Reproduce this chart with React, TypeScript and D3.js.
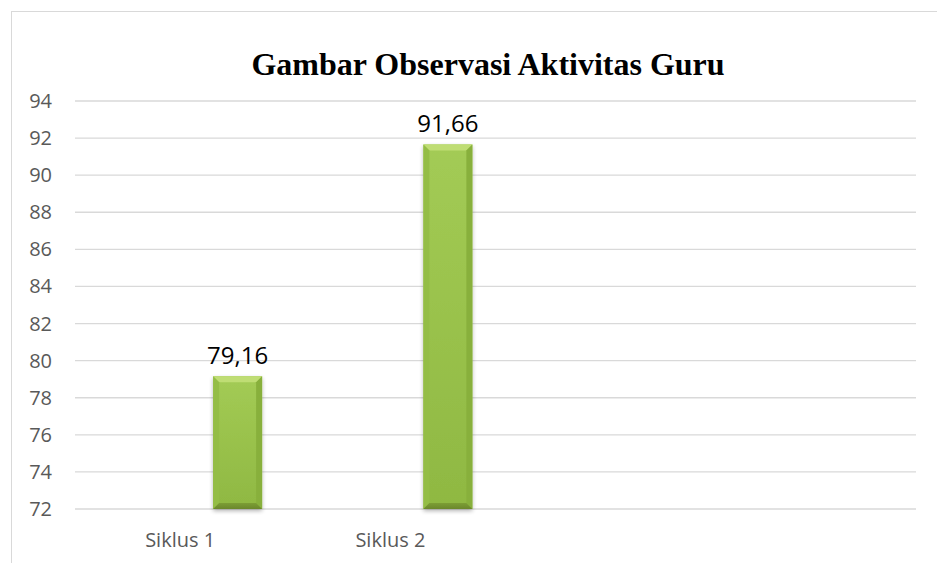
import React from "react";
import * as d3 from "d3";

const categories = ["Siklus 1", "Siklus 2", "", " "];
const values = [79.16, 91.66];
const valueLabels = ["79,16", "91,66"];
const yTicks = [72, 74, 76, 78, 80, 82, 84, 86, 88, 90, 92, 94];
const title = "Gambar Observasi Aktivitas Guru";

const W = 937;
const H = 563;
const plotLeft = 75;
const plotRight = 916;
const plotTop = 101;
const plotBottom = 509;

export default function App() {
  const x = d3.scaleBand<string>().domain(categories).range([plotLeft, plotRight]).padding(0);
  const y = d3.scaleLinear().domain([72, 94]).range([plotBottom, plotTop]);
  const bw = x.bandwidth();
  const barOffset = bw * 0.657;
  const barW = bw * 0.233;
  const bev = 6;
  const font = "'Open Sans', 'Noto Sans', sans-serif";

  return (
    <svg width={W} height={H} style={{ position: "absolute", left: 0, top: 0, background: "#fff" }}>
      <defs>
        <linearGradient id="face" x1="0" y1="0" x2="0" y2="1">
          <stop offset="0%" stopColor="#a3cb55" />
          <stop offset="100%" stopColor="#8fb842" />
        </linearGradient>
        <linearGradient id="bottomEdge" x1="0" y1="0" x2="0" y2="1">
          <stop offset="0%" stopColor="#7c9e35" />
          <stop offset="100%" stopColor="#6b872c" />
        </linearGradient>
        <filter id="shadow" x="-20%" y="-5%" width="140%" height="115%">
          <feGaussianBlur in="SourceAlpha" stdDeviation="2" />
          <feOffset dx="0" dy="2" result="b" />
          <feComponentTransfer>
            <feFuncA type="linear" slope="0.3" />
          </feComponentTransfer>
          <feMerge>
            <feMergeNode />
            <feMergeNode in="SourceGraphic" />
          </feMerge>
        </filter>
      </defs>
      <rect x={11.5} y={11.5} width={W} height={H} fill="#fff" stroke="#d9d9d9" strokeWidth={1} />
      <text
        x={488}
        y={75}
        textAnchor="middle"
        fontFamily="'Liberation Serif', 'Times New Roman', serif"
        fontWeight="bold"
        fontSize={32}
        fill="#000"
      >
        {title}
      </text>
      {yTicks.map((t) => (
        <g key={t}>
          <line x1={plotLeft} x2={plotRight} y1={y(t)} y2={y(t)} stroke="#d9d9d9" strokeWidth={1.3} />
          <text
            x={52}
            y={y(t)}
            dy="0.35em"
            textAnchor="end"
            fontFamily={font}
            fontSize={20}
            fill="#595959"
          >
            {t}
          </text>
        </g>
      ))}
      {categories.slice(0, 2).map((c) => (
        <text
          key={c}
          x={(x(c) as number) + bw / 2}
          y={547}
          textAnchor="middle"
          fontFamily={font}
          fontSize={20}
          fill="#595959"
        >
          {c}
        </text>
      ))}
      {values.map((v, i) => {
        const bx = (x(categories[i]) as number) + barOffset;
        const by = y(v);
        const bh = y(72) - by;
        const r = bx + barW;
        const b = by + bh;
        return (
          <g key={i}>
            <g filter="url(#shadow)">
              <rect x={bx} y={by} width={barW} height={bh} fill="url(#face)" />
            </g>
            <polygon points={`${bx},${by} ${r},${by} ${r - bev},${by + bev} ${bx + bev},${by + bev}`} fill="#bfdd74" />
            <polygon points={`${bx},${by} ${bx + bev},${by + bev} ${bx + bev},${b - bev} ${bx},${b}`} fill="#94bd46" />
            <polygon points={`${r},${by} ${r - bev},${by + bev} ${r - bev},${b - bev} ${r},${b}`} fill="#88b03c" />
            <polygon points={`${bx},${b} ${bx + bev},${b - bev} ${r - bev},${b - bev} ${r},${b}`} fill="url(#bottomEdge)" />
            <text
              x={bx + barW / 2}
              y={by - 12}
              textAnchor="middle"
              fontFamily={font}
              fontSize={24}
              fill="#000"
            >
              {valueLabels[i]}
            </text>
          </g>
        );
      })}
    </svg>
  );
}
